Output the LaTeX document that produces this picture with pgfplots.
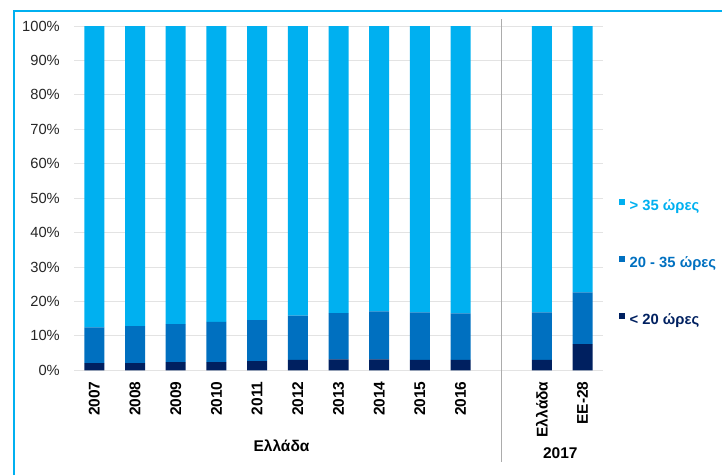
\documentclass[border=0pt]{standalone}
\usepackage{fontspec}
\setmainfont{Liberation Sans}
\usepackage{pgfplots}
\pgfplotsset{compat=1.18}
\usepackage{pgfplotstable}
\definecolor{cLight}{HTML}{00B0F0}
\definecolor{cMid}{HTML}{0070C0}
\definecolor{cDark}{HTML}{002060}
\definecolor{cGrid}{HTML}{E3E3E3}
\definecolor{cTick}{HTML}{262626}
\pgfplotstableread{
x  lt20  mid   gt35
0  2.1   10.4  87.5
1  2.1   10.7  87.2
2  2.4   11.0  86.6
3  2.4   11.7  85.9
4  2.7   11.9  85.4
5  3.0   12.9  84.1
6  3.2   13.4  83.4
7  3.2   13.9  82.9
8  3.0   13.8  83.2
9  3.0   13.5  83.5
11 3.0   13.8  83.2
12 7.6   15.0  77.4
}\datatable
\begin{document}
\begin{tikzpicture}[x=1pt,y=1pt]
\draw[cLight,line width=2pt] (14,0) -- (14,464) -- (722,464);
\begin{axis}[
  at={(74pt,104.7pt)}, anchor=south west,
  scale only axis, width=529pt, height=344.3pt,
  ybar stacked, bar width=20pt,
  xmin=-0.5, xmax=12.5, ymin=0, ymax=100,
  xtick={0,1,2,3,4,5,6,7,8,9,11,12},
  xticklabels={2007,2008,2009,2010,2011,2012,2013,2014,2015,2016,Ελλάδα,ΕΕ-28},
  xticklabel style={rotate=90, anchor=east, font=\fontsize{15.5}{17}\selectfont\bfseries, text=black, inner sep=0pt},
  xticklabel shift=11pt,
  xtick style={draw=none}, ytick style={draw=none},
  ytick={0,10,...,100},
  yticklabel={\pgfmathprintnumber{\tick}\%},
  yticklabel style={font=\fontsize{14.7}{16}\selectfont, text=cTick, inner sep=0pt},
  yticklabel shift=14pt,
  /pgf/number format/assume math mode=true,
  ymajorgrids, grid style={cGrid, line width=1pt},
  axis line style={draw=none},
  clip=false,
  reverse legend,
  legend cell align=left,
  legend style={at={(1.03,0.311)}, anchor=west, draw=none, fill=none, inner sep=0pt,
    row sep=42.7pt, column sep=4.5pt,
    nodes={inner sep=0pt, text height=11pt, text depth=3pt, font=\fontsize{14.8}{17}\selectfont\bfseries}},
  legend image code/.code={\fill[#1] (0pt,1.5pt) rectangle (6pt,7.5pt);},
]
\addplot[fill=cDark, draw=none] table[x=x, y=lt20] {\datatable};
\addplot[fill=cMid, draw=none] table[x=x, y=mid] {\datatable};
\addplot[fill=cLight, draw=none] table[x=x, y=gt35] {\datatable};
\legend{\textcolor{cDark}{< 20 ώρες}, \textcolor{cMid}{20 - 35 ώρες}, \textcolor{cLight}{> 35 ώρες}}
\draw[gray!65, line width=1pt] (axis cs:10,102) -- (axis cs:10,-26.6);
\node[font=\fontsize{15.5}{17}\selectfont\bfseries] at (axis cs:4.6,-22.0) {Ελλάδα};
\node[font=\fontsize{15.5}{17}\selectfont\bfseries] at (axis cs:11.45,-24.0) {2017};
\end{axis}
\pgfresetboundingbox
\path (0,0) rectangle (722,475);
\end{tikzpicture}
\end{document}
